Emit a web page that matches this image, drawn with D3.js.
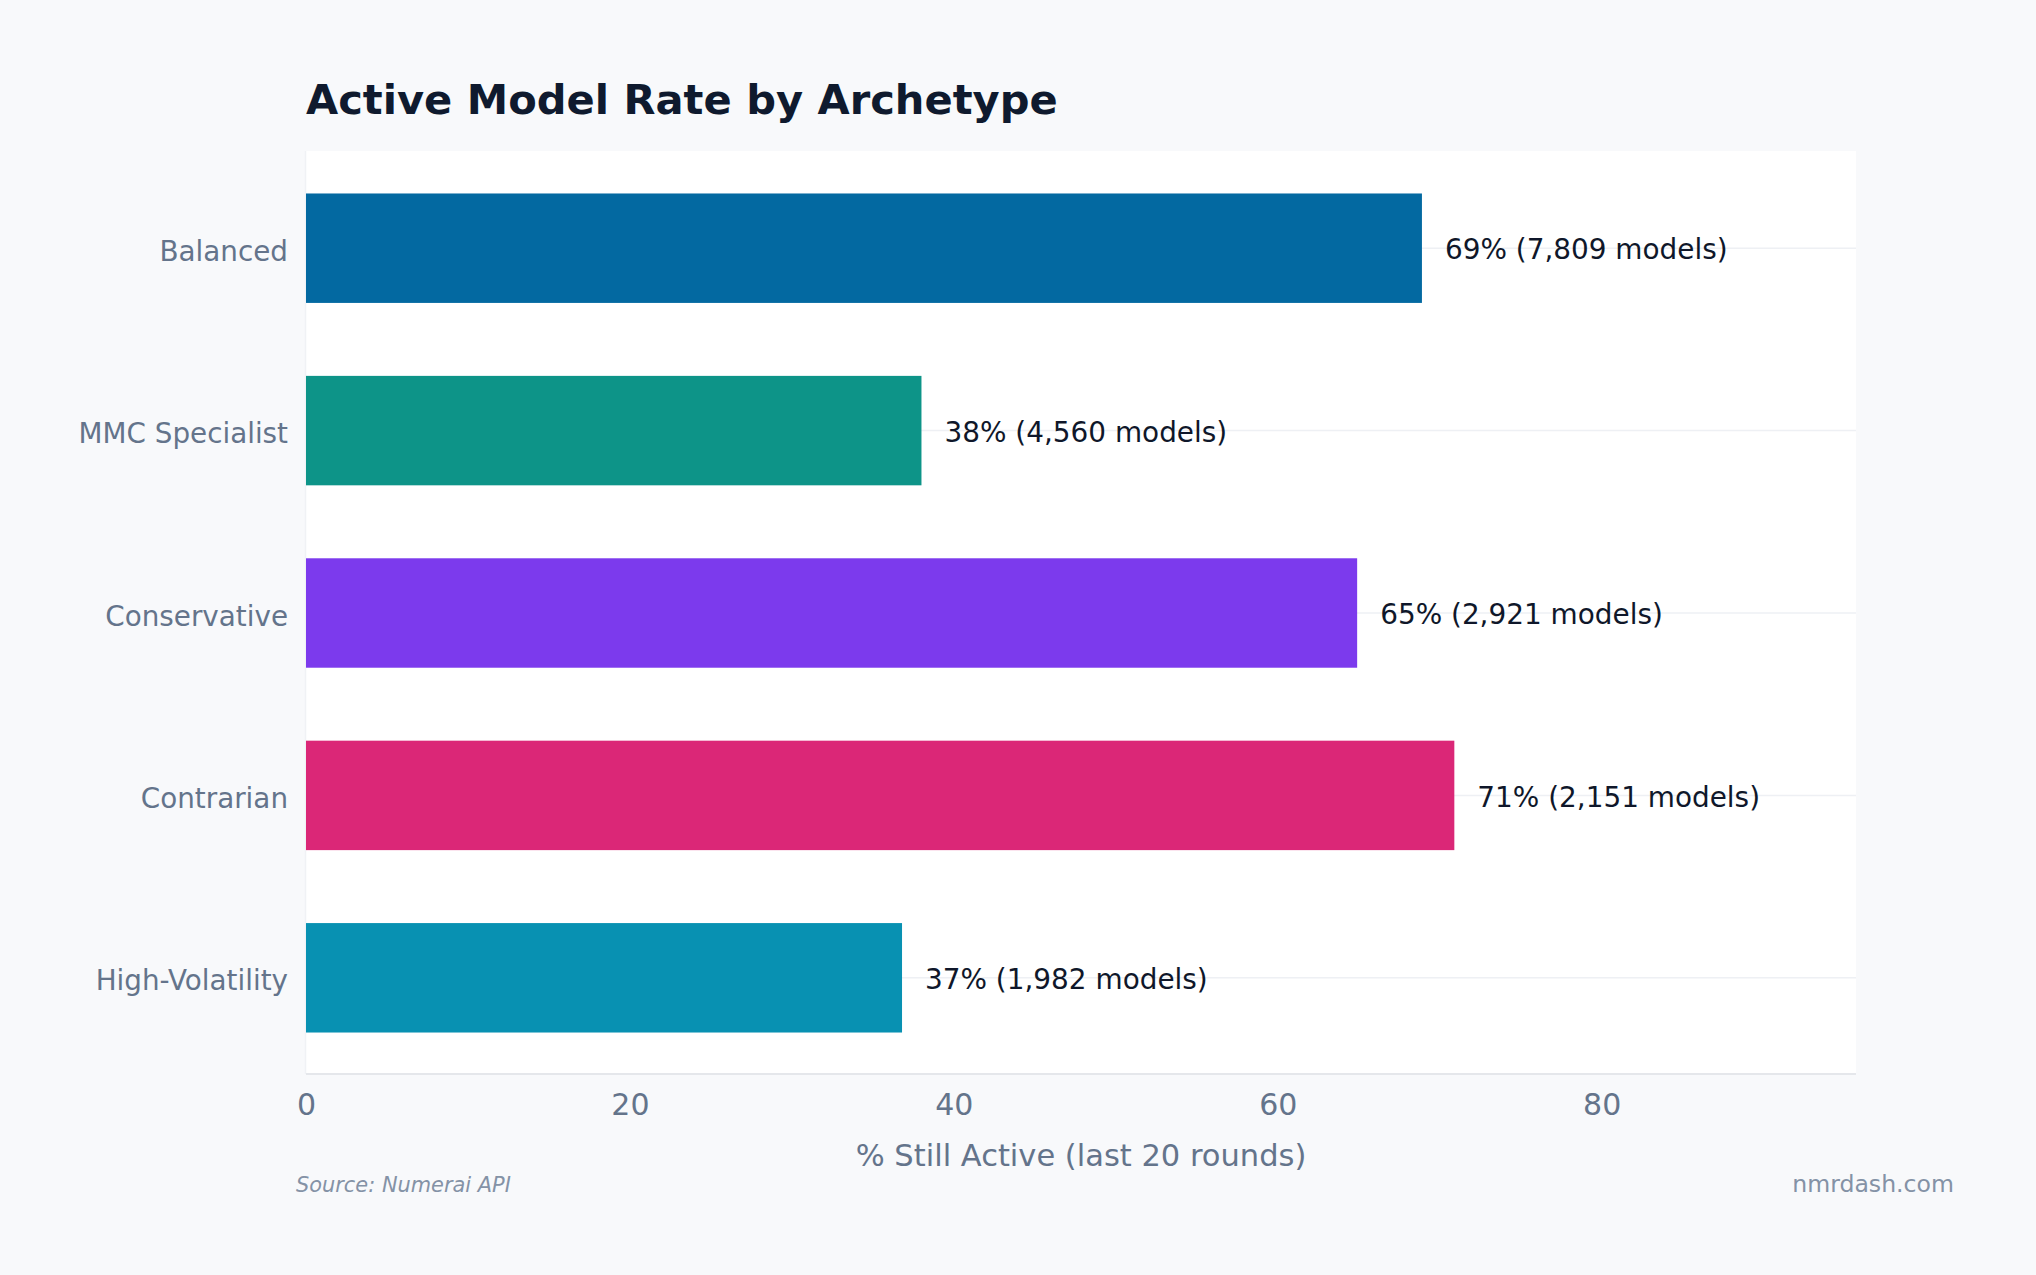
<!DOCTYPE html>
<html>
<head>
<meta charset="utf-8">
<script src="https://cdn.jsdelivr.net/npm/d3@7"></script>
<style>
  html, body { margin: 0; padding: 0; background: #f8f9fb; }
  svg { display: block; font-family: "DejaVu Sans", sans-serif; }
</style>
</head>
<body>
<svg id="chart" width="2036" height="1275"></svg>
<script>
const categories = ["Balanced", "MMC Specialist", "Conservative", "Contrarian", "High-Volatility"];
const activePct = [68.9, 38.0, 64.9, 70.9, 36.8];
const valueLabels = ["69% (7,809 models)", "38% (4,560 models)", "65% (2,921 models)", "71% (2,151 models)", "37% (1,982 models)"];
const barColors = ["#0369a1", "#0d9488", "#7c3aed", "#db2777", "#0891b2"];
const xTicks = [0, 20, 40, 60, 80];

const W = 2036, H = 1275;
const panel = { left: 306, right: 1856, top: 151, bottom: 1074 };

const svg = d3.select("#chart");
svg.append("rect").attr("width", W).attr("height", H).attr("fill", "#f8f9fb");

// plot panel
svg.append("rect")
  .attr("x", panel.left).attr("y", panel.top)
  .attr("width", panel.right - panel.left).attr("height", panel.bottom - panel.top)
  .attr("fill", "#ffffff");
svg.append("line")
  .attr("x1", panel.left - 0.5).attr("x2", panel.left - 0.5)
  .attr("y1", panel.top).attr("y2", panel.bottom)
  .attr("stroke", "#f0f2f5").attr("stroke-width", 1.5);

const x = d3.scaleLinear().domain([0, 95.7]).range([panel.left, panel.right]);
const y = d3.scaleBand().domain(categories).range([157, 1069]).paddingInner(0.4).paddingOuter(0.2);

const data = categories.map((c, i) => ({ cat: c, v: activePct[i], label: valueLabels[i], color: barColors[i] }));

// gridlines at category centers
svg.append("g").selectAll("line").data(categories).join("line")
  .attr("x1", panel.left).attr("x2", panel.right)
  .attr("y1", d => y(d) + y.bandwidth() / 2).attr("y2", d => y(d) + y.bandwidth() / 2)
  .attr("stroke", "#eef0f4").attr("stroke-width", 1.5);

// bars
svg.append("g").selectAll("rect").data(data).join("rect")
  .attr("x", x(0)).attr("y", d => y(d.cat))
  .attr("width", d => x(d.v) - x(0)).attr("height", y.bandwidth())
  .attr("fill", d => d.color);

// value labels
svg.append("g").selectAll("text").data(data).join("text")
  .attr("x", d => x(d.v) + 23)
  .attr("y", d => y(d.cat) + y.bandwidth() / 2)
  .attr("dy", "0.4em")
  .attr("font-size", 27.9).attr("fill", "#0f172a")
  .text(d => d.label);

// bottom axis line
svg.append("line")
  .attr("x1", panel.left).attr("x2", panel.right)
  .attr("y1", panel.bottom).attr("y2", panel.bottom)
  .attr("stroke", "#e5e7eb").attr("stroke-width", 2);

// x axis ticks
const xAxis = d3.axisBottom(x).tickValues(xTicks).tickSize(0).tickPadding(20).tickFormat(d3.format("d"));
const gx = svg.append("g").attr("transform", `translate(0,${panel.bottom})`).call(xAxis);
gx.select(".domain").remove();
gx.selectAll("text").attr("font-size", 30).attr("fill", "#64748b").attr("font-family", "DejaVu Sans, sans-serif");

// y axis labels
const yAxis = d3.axisLeft(y).tickSize(0).tickPadding(18);
const gy = svg.append("g").attr("transform", `translate(${panel.left},0)`).call(yAxis);
gy.select(".domain").remove();
gy.selectAll("text").attr("font-size", 27.8).attr("dy", "0.45em").attr("fill", "#64748b").attr("font-family", "DejaVu Sans, sans-serif");

// title
svg.append("text")
  .attr("x", 306).attr("y", 114)
  .attr("font-size", 41.6).attr("font-weight", "bold").attr("fill", "#0f1a2e")
  .text("Active Model Rate by Archetype");

// axis title
svg.append("text")
  .attr("x", (panel.left + panel.right) / 2).attr("y", 1166)
  .attr("text-anchor", "middle")
  .attr("font-size", 30.5).attr("fill", "#64748b")
  .text("% Still Active (last 20 rounds)");

// source
svg.append("text")
  .attr("x", 296).attr("y", 1192)
  .attr("font-size", 20.9).attr("font-style", "italic").attr("fill", "#8492a6")
  .text("Source: Numerai API");

svg.append("text")
  .attr("x", 1954).attr("y", 1192)
  .attr("text-anchor", "end")
  .attr("font-size", 23.6).attr("fill", "#8492a6")
  .text("nmrdash.com");
</script>
</body>
</html>
